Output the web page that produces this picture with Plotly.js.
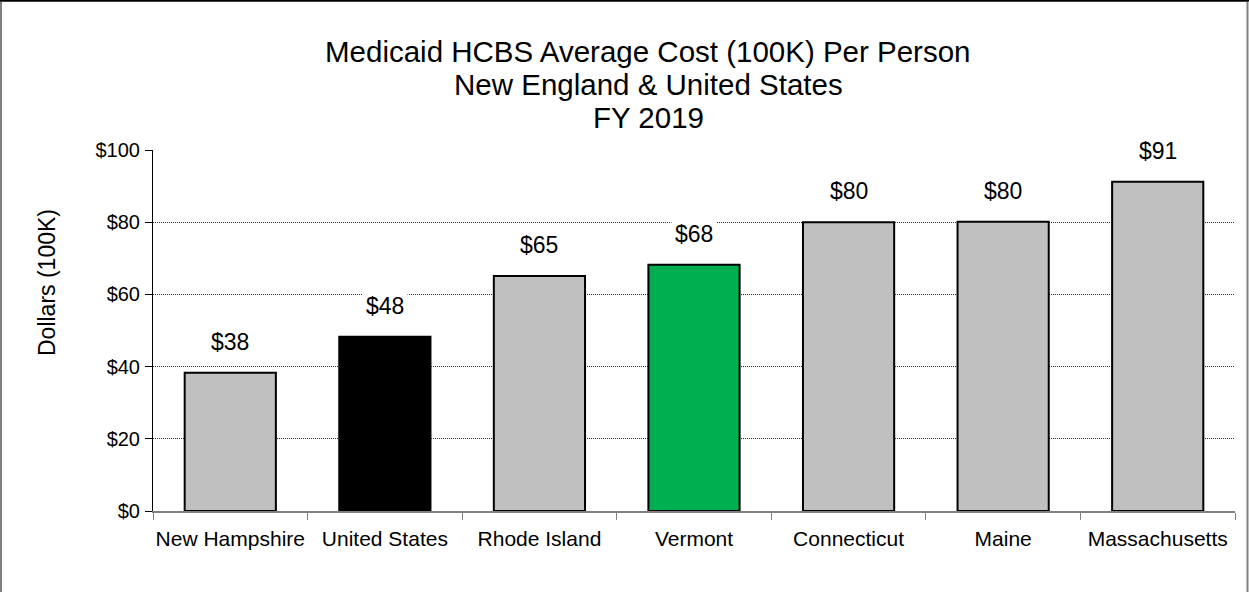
<!DOCTYPE html>
<html>
<head>
<meta charset="utf-8">
<script src="https://cdn.plot.ly/plotly-3.0.1.min.js"></script>
<style>html,body{margin:0;padding:0;background:#fff;}#chart{width:1249px;height:592px;}</style>
</head>
<body>
<div id="chart"></div>
<script>
const categories = ["New Hampshire", "United States", "Rhode Island", "Vermont", "Connecticut", "Maine", "Massachusetts"];
const values = [38.3, 48.3, 65.1, 68.2, 80.0, 80.1, 91.2];
const barColors = ["#c0c0c0", "#000000", "#c0c0c0", "#00b050", "#c0c0c0", "#c0c0c0", "#c0c0c0"];
const titleLines = ["Medicaid HCBS Average Cost (100K) Per Person", "New England & United States", "FY 2019"];
const yTitle = "Dollars (100K)";

const font = "Liberation Sans, Arial, sans-serif";
const W = 1249, H = 592, L = 153, R = 14, T = 150, B = 81;
const pw = W - L - R, ph = H - T - B;
const px = x => (x - L) / pw;
const py = y => (H - B - y) / ph;

const trace = {
  type: "bar",
  x: categories,
  y: values,
  marker: {color: barColors, line: {color: "#000000", width: 2}},
  hoverinfo: "skip"
};

const annotations = categories.map((c, i) => ({
  x: c, y: values[i], xref: "x", yref: "y",
  text: "$" + Math.round(values[i]),
  showarrow: false, yshift: 31, yanchor: "middle",
  bgcolor: "#ffffff", borderpad: 3,
  font: {family: font, size: 23, color: "#000"}
}));

const titleY = [52, 85, 118];
titleLines.forEach((t, i) => annotations.push({
  text: t, xref: "paper", yref: "paper", x: px(648), y: py(titleY[i]),
  xanchor: "center", yanchor: "middle", showarrow: false,
  font: {family: font, size: 29.5, color: "#000"}
}));

annotations.push({
  text: yTitle, xref: "paper", yref: "paper", x: px(47), y: py(283),
  xanchor: "center", yanchor: "middle", textangle: -90, showarrow: false,
  font: {family: font, size: 23, color: "#000"}
});

const layout = {
  width: W, height: H,
  margin: {l: L, r: R, t: T, b: B},
  paper_bgcolor: "#ffffff", plot_bgcolor: "#ffffff",
  showlegend: false,
  bargap: 0.41,
  xaxis: {
    type: "category",
    showline: true, linecolor: "#808080", linewidth: 1.5,
    ticks: "outside", tickson: "boundaries", ticklen: 7, tickcolor: "#808080",
    ticklabelstandoff: 8, tickangle: 0,
    tickfont: {family: font, size: 21, color: "#000"},
    showgrid: false, fixedrange: true
  },
  yaxis: {
    range: [0, 100], dtick: 20, tickprefix: "$",
    showline: true, linecolor: "#000", linewidth: 1,
    ticks: "outside", ticklen: 7, tickcolor: "#000",
    ticklabelstandoff: 1,
    tickfont: {family: font, size: 20, color: "#000"},
    showgrid: true, gridcolor: "#303030", gridwidth: 1, griddash: "1px,1px",
    zeroline: false,
    fixedrange: true
  },
  annotations: annotations,
  shapes: [
    {type: "rect", xref: "paper", yref: "paper",
     x0: px(1), x1: px(1247.5), y0: py(600), y1: py(1),
     line: {color: "#808080", width: 2}},
    {type: "line", xref: "paper", yref: "paper",
     x0: px(0), x1: px(1249), y0: py(0.5), y1: py(0.5),
     line: {color: "#000000", width: 2}}
  ]
};

Plotly.newPlot("chart", [trace], layout, {displayModeBar: false, staticPlot: true});
</script>
</body>
</html>
